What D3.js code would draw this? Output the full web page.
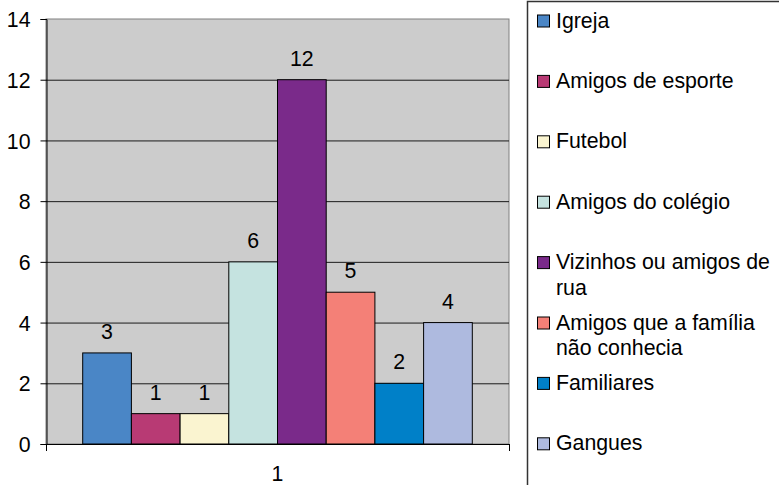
<!DOCTYPE html>
<html><head><meta charset="utf-8">
<script src="https://cdn.jsdelivr.net/npm/d3@7"></script>
<style>body{margin:0;background:#fff}svg{display:block}text{font-family:"Liberation Sans",Arial,sans-serif}</style>
</head><body><svg id="c" width="779" height="485"></svg>
<script>
const categories = ["1"];
const seriesNames = ["Igreja","Amigos de esporte","Futebol","Amigos do colégio","Vizinhos ou amigos de rua","Amigos que a família não conhecia","Familiares","Gangues"];
const legendLines = [["Igreja"],["Amigos de esporte"],["Futebol"],["Amigos do colégio"],["Vizinhos ou amigos de","rua"],["Amigos que a família","não conhecia"],["Familiares"],["Gangues"]];
const values = [3,1,1,6,12,5,2,4];
const colors = ["#4a86c6","#b83a74","#faf4d0","#c5e3e0","#7a2a8a","#f48077","#0080c8","#aebadf"];
const yTicks = [0,2,4,6,8,10,12,14];

const FS = 21.3;
const svg = d3.select("#c");
const L=46, R=509, T=19, B=444;
const y = d3.scaleLinear().domain([0,14]).range([B,T]);
const x0 = d3.scaleBand().domain(categories).range([L,R]).paddingInner(0).paddingOuter(0.0942);
const x1 = d3.scaleBand().domain(seriesNames).range([0,x0.bandwidth()]);

svg.append("rect").attr("x",L).attr("y",T).attr("width",R-L).attr("height",B-T).attr("fill","#cccccc").attr("stroke","#808080");
svg.append("g").selectAll("line").data(yTicks.filter(d=>d>0&&d<14)).join("line")
  .attr("x1",L).attr("x2",R).attr("y1",d=>y(d)+0.5).attr("y2",d=>y(d)+0.5).attr("stroke","#1a1a1a");

const g = svg.append("g");
categories.forEach(c=>{
  seriesNames.forEach((s,i)=>{
    const bx = x0(c)+x1(s);
    g.append("rect").attr("x",bx).attr("y",y(values[i])).attr("width",x1.bandwidth()).attr("height",B-y(values[i]))
      .attr("fill",colors[i]).attr("stroke","#000").attr("stroke-width",1);
    g.append("text").attr("x",bx+x1.bandwidth()/2).attr("y",y(values[i])-14).attr("text-anchor","middle")
      .attr("font-size",FS).attr("fill","#000").text(values[i]);
  });
});

const ya = d3.axisLeft(y).tickValues(yTicks).tickSize(6).tickPadding(10);
const yg = svg.append("g").attr("transform",`translate(${L+0.5},0)`).call(ya);
yg.selectAll("text").attr("font-size",FS).attr("fill","#000");
yg.selectAll("line,path").attr("stroke","#000");
yg.selectAll(".tick text").attr("dy","0.36em");

const xa = d3.axisBottom(x0).tickSize(0).tickPadding(23);
const xg = svg.append("g").attr("transform",`translate(0,${B+0.5})`).call(xa);
xg.select("path").attr("stroke","#000").attr("d",`M${L},0H${R}`);
xg.selectAll("text").attr("font-size",FS).attr("fill","#000").attr("dy","0.62em");
[L,R].forEach(px=>svg.append("line").attr("x1",px+0.5).attr("x2",px+0.5).attr("y1",B).attr("y2",B+7).attr("stroke","#000"));

// legend
svg.append("rect").attr("x",527.5).attr("y",1.5).attr("width",260).attr("height",490).attr("fill","#fff").attr("stroke","#333").attr("stroke-width",1.5);
const lg = svg.append("g");
legendLines.forEach((lines,i)=>{
  const by = 27.5 + i*60.4;
  lg.append("rect").attr("x",537.5).attr("y",by-12.5).attr("width",12).attr("height",12).attr("fill",colors[i]).attr("stroke","#000");
  const t = lg.append("text").attr("x",556).attr("y",by).attr("font-size",FS).attr("fill","#000");
  lines.forEach((ln,j)=>t.append("tspan").attr("x",556).attr("dy",j===0?0:25.5).text(ln));
});
</script></body></html>
